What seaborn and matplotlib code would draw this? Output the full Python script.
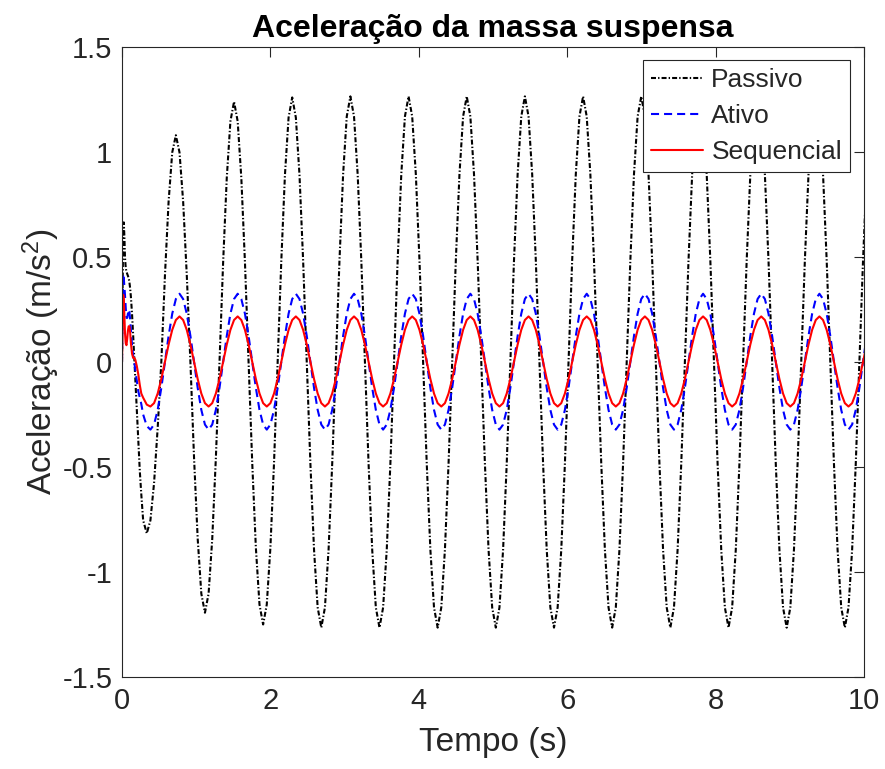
import matplotlib
matplotlib.use("Agg")
import matplotlib.pyplot as plt
import pandas as pd
import seaborn as sns

# ---------------- data ----------------
tempo = [
    0.000, 0.008, 0.016, 0.024, 0.032, 0.040, 0.050, 0.060, 0.070, 0.080, 0.090,
    0.100, 0.110, 0.120, 0.135, 0.150, 0.165, 0.180, 0.200, 0.220, 0.240, 0.260,
    0.285, 0.334, 0.383, 0.432, 0.481, 0.530, 0.579, 0.628, 0.677, 0.726, 0.775, 0.824, 0.873, 0.922, 0.971, 1.020,
    1.069, 1.118, 1.167, 1.216, 1.265, 1.314, 1.363, 1.412, 1.461, 1.510, 1.559, 1.608, 1.657, 1.706, 1.755, 1.804,
    1.853, 1.902, 1.951, 2.000, 2.049, 2.098, 2.147, 2.196, 2.245, 2.294, 2.343, 2.392, 2.441, 2.490, 2.539, 2.588,
    2.637, 2.686, 2.735, 2.784, 2.833, 2.882, 2.931, 2.980, 3.029, 3.078, 3.127, 3.176, 3.225, 3.274, 3.323, 3.372,
    3.421, 3.470, 3.519, 3.568, 3.617, 3.666, 3.715, 3.764, 3.813, 3.862, 3.911, 3.960, 4.009, 4.058, 4.107, 4.156,
    4.205, 4.254, 4.303, 4.352, 4.401, 4.450, 4.499, 4.548, 4.597, 4.646, 4.695, 4.744, 4.793, 4.842, 4.891, 4.940,
    4.989, 5.038, 5.087, 5.136, 5.185, 5.234, 5.283, 5.332, 5.381, 5.430, 5.479, 5.528, 5.577, 5.626, 5.675, 5.724,
    5.773, 5.822, 5.871, 5.920, 5.969, 6.018, 6.067, 6.116, 6.165, 6.214, 6.263, 6.312, 6.361, 6.410, 6.459, 6.508,
    6.557, 6.606, 6.655, 6.704, 6.753, 6.802, 6.851, 6.900, 6.949, 6.998, 7.047, 7.096, 7.145, 7.194, 7.243, 7.292,
    7.341, 7.390, 7.439, 7.488, 7.537, 7.586, 7.635, 7.684, 7.733, 7.782, 7.831, 7.880, 7.929, 7.978, 8.027, 8.076,
    8.125, 8.174, 8.223, 8.272, 8.321, 8.370, 8.419, 8.468, 8.517, 8.566, 8.615, 8.664, 8.713, 8.762, 8.811, 8.860,
    8.909, 8.958, 9.007, 9.056, 9.105, 9.154, 9.203, 9.252, 9.301, 9.350, 9.399, 9.448, 9.497, 9.546, 9.595, 9.644,
    9.693, 9.742, 9.791, 9.840, 9.889, 9.938, 9.987, 10.036,
]

passivo = [
    0.00, 0.35, 0.60, 0.665, 0.60, 0.50, 0.45, 0.43, 0.42, 0.41, 0.40,
    0.38, 0.35, 0.31, 0.23, 0.13, 0.02, -0.08, -0.24, -0.39, -0.52, -0.63,
    -0.754, -0.816, -0.754, -0.577, -0.313, 0.000, 0.414, 0.764, 0.998, 1.080, 0.998, 0.764, 0.414, 0.000, -0.457, -0.841,
    -1.103, -1.194, -1.103, -0.844, -0.457, 0.000, 0.475, 0.877, 1.146, 1.240, 1.146, 0.877, 0.475, 0.000, -0.479, -0.884,
    -1.155, -1.250, -1.155, -0.884, -0.479, 0.000, 0.483, 0.891, 1.164, 1.260, 1.164, 0.891, 0.483, 0.000, -0.484, -0.894,
    -1.169, -1.265, -1.169, -0.894, -0.484, 0.000, 0.484, 0.894, 1.169, 1.265, 1.169, 0.894, 0.484, 0.000, -0.484, -0.894,
    -1.169, -1.265, -1.169, -0.894, -0.484, 0.000, 0.484, 0.894, 1.169, 1.265, 1.169, 0.894, 0.484, 0.000, -0.484, -0.894,
    -1.169, -1.265, -1.169, -0.894, -0.484, 0.000, 0.484, 0.894, 1.169, 1.265, 1.169, 0.894, 0.484, 0.000, -0.484, -0.894,
    -1.169, -1.265, -1.169, -0.894, -0.484, 0.000, 0.484, 0.894, 1.169, 1.265, 1.169, 0.894, 0.484, 0.000, -0.484, -0.894,
    -1.169, -1.265, -1.169, -0.894, -0.484, 0.000, 0.484, 0.894, 1.169, 1.265, 1.169, 0.894, 0.484, 0.000, -0.484, -0.894,
    -1.169, -1.265, -1.169, -0.894, -0.484, 0.000, 0.484, 0.894, 1.169, 1.265, 1.169, 0.894, 0.484, 0.000, -0.484, -0.894,
    -1.169, -1.265, -1.169, -0.894, -0.484, 0.000, 0.484, 0.894, 1.169, 1.265, 1.169, 0.894, 0.484, 0.000, -0.484, -0.894,
    -1.169, -1.265, -1.169, -0.894, -0.484, 0.000, 0.484, 0.894, 1.169, 1.265, 1.169, 0.894, 0.484, 0.000, -0.484, -0.894,
    -1.169, -1.265, -1.169, -0.894, -0.484, 0.000, 0.484, 0.894, 1.169, 1.265, 1.169, 0.894, 0.484, 0.000, -0.484, -0.894,
    -1.169, -1.265, -1.169, -0.894, -0.484, 0.000, 0.484, 0.894,
]

ativo = [
    0.00, 0.25, 0.42, 0.40, 0.36, 0.32, 0.26, 0.21, 0.21, 0.23, 0.25,
    0.24, 0.20, 0.15, 0.08, 0.03, 0.00, -0.04, -0.09, -0.14, -0.17, -0.20,
    -0.250, -0.305, -0.322, -0.298, -0.228, -0.123, 0.000, 0.124, 0.230, 0.300, 0.325, 0.300, 0.230, 0.124, 0.000, -0.123,
    -0.228, -0.298, -0.322, -0.298, -0.228, -0.123, 0.000, 0.124, 0.230, 0.300, 0.325, 0.300, 0.230, 0.124, 0.000, -0.123,
    -0.228, -0.298, -0.322, -0.298, -0.228, -0.123, 0.000, 0.124, 0.230, 0.300, 0.325, 0.300, 0.230, 0.124, 0.000, -0.123,
    -0.228, -0.298, -0.322, -0.298, -0.228, -0.123, 0.000, 0.124, 0.230, 0.300, 0.325, 0.300, 0.230, 0.124, 0.000, -0.123,
    -0.228, -0.298, -0.322, -0.298, -0.228, -0.123, 0.000, 0.124, 0.230, 0.300, 0.325, 0.300, 0.230, 0.124, 0.000, -0.123,
    -0.228, -0.298, -0.322, -0.298, -0.228, -0.123, 0.000, 0.124, 0.230, 0.300, 0.325, 0.300, 0.230, 0.124, 0.000, -0.123,
    -0.228, -0.298, -0.322, -0.298, -0.228, -0.123, 0.000, 0.124, 0.230, 0.300, 0.325, 0.300, 0.230, 0.124, 0.000, -0.123,
    -0.228, -0.298, -0.322, -0.298, -0.228, -0.123, 0.000, 0.124, 0.230, 0.300, 0.325, 0.300, 0.230, 0.124, 0.000, -0.123,
    -0.228, -0.298, -0.322, -0.298, -0.228, -0.123, 0.000, 0.124, 0.230, 0.300, 0.325, 0.300, 0.230, 0.124, 0.000, -0.123,
    -0.228, -0.298, -0.322, -0.298, -0.228, -0.123, 0.000, 0.124, 0.230, 0.300, 0.325, 0.300, 0.230, 0.124, 0.000, -0.123,
    -0.228, -0.298, -0.322, -0.298, -0.228, -0.123, 0.000, 0.124, 0.230, 0.300, 0.325, 0.300, 0.230, 0.124, 0.000, -0.123,
    -0.228, -0.298, -0.322, -0.298, -0.228, -0.123, 0.000, 0.124, 0.230, 0.300, 0.325, 0.300, 0.230, 0.124, 0.000, -0.123,
    -0.228, -0.298, -0.322, -0.298, -0.228, -0.123, 0.000, 0.124,
]

sequencial = [
    0.00, 0.20, 0.32, 0.30, 0.22, 0.14, 0.09, 0.08, 0.11, 0.15, 0.17,
    0.17, 0.14, 0.09, 0.04, 0.02, 0.02, 0.01, -0.02, -0.06, -0.11, -0.15,
    -0.170, -0.203, -0.212, -0.196, -0.150, -0.081, 0.000, 0.083, 0.153, 0.200, 0.217, 0.200, 0.153, 0.083, 0.000, -0.081,
    -0.150, -0.196, -0.212, -0.196, -0.150, -0.081, 0.000, 0.083, 0.153, 0.200, 0.217, 0.200, 0.153, 0.083, 0.000, -0.081,
    -0.150, -0.196, -0.212, -0.196, -0.150, -0.081, 0.000, 0.083, 0.153, 0.200, 0.217, 0.200, 0.153, 0.083, 0.000, -0.081,
    -0.150, -0.196, -0.212, -0.196, -0.150, -0.081, 0.000, 0.083, 0.153, 0.200, 0.217, 0.200, 0.153, 0.083, 0.000, -0.081,
    -0.150, -0.196, -0.212, -0.196, -0.150, -0.081, 0.000, 0.083, 0.153, 0.200, 0.217, 0.200, 0.153, 0.083, 0.000, -0.081,
    -0.150, -0.196, -0.212, -0.196, -0.150, -0.081, 0.000, 0.083, 0.153, 0.200, 0.217, 0.200, 0.153, 0.083, 0.000, -0.081,
    -0.150, -0.196, -0.212, -0.196, -0.150, -0.081, 0.000, 0.083, 0.153, 0.200, 0.217, 0.200, 0.153, 0.083, 0.000, -0.081,
    -0.150, -0.196, -0.212, -0.196, -0.150, -0.081, 0.000, 0.083, 0.153, 0.200, 0.217, 0.200, 0.153, 0.083, 0.000, -0.081,
    -0.150, -0.196, -0.212, -0.196, -0.150, -0.081, 0.000, 0.083, 0.153, 0.200, 0.217, 0.200, 0.153, 0.083, 0.000, -0.081,
    -0.150, -0.196, -0.212, -0.196, -0.150, -0.081, 0.000, 0.083, 0.153, 0.200, 0.217, 0.200, 0.153, 0.083, 0.000, -0.081,
    -0.150, -0.196, -0.212, -0.196, -0.150, -0.081, 0.000, 0.083, 0.153, 0.200, 0.217, 0.200, 0.153, 0.083, 0.000, -0.081,
    -0.150, -0.196, -0.212, -0.196, -0.150, -0.081, 0.000, 0.083, 0.153, 0.200, 0.217, 0.200, 0.153, 0.083, 0.000, -0.081,
    -0.150, -0.196, -0.212, -0.196, -0.150, -0.081, 0.000, 0.083,
]

nomes = ["Passivo", "Ativo", "Sequencial"]
titulo = "Aceleração da massa suspensa"
rotulo_x = "Tempo (s)"
rotulo_y = "Aceleração (m/s$^{2}$)"
x_ticks = [0, 2, 4, 6, 8, 10]
y_ticks = [-1.5, -1, -0.5, 0, 0.5, 1, 1.5]
y_tick_labels = ["-1.5", "-1", "-0.5", "0", "0.5", "1", "1.5"]

# ---------------- style ----------------
sns.set_style("white")
plt.rcParams["font.family"] = ["Liberation Sans", "DejaVu Sans"]
plt.rcParams["axes.unicode_minus"] = False
plt.rcParams["mathtext.fontset"] = "custom"
plt.rcParams["mathtext.rm"] = "Liberation Sans"
plt.rcParams["mathtext.default"] = "regular"
plt.rcParams["lines.scale_dashes"] = False

W, H = 885, 769
fig = plt.figure(figsize=(W / 100, H / 100), dpi=100)
ax = fig.add_axes([122 / W, 1 - 677 / H, 742 / W, 630 / H])

df = pd.DataFrame({"Tempo": tempo, nomes[0]: passivo, nomes[1]: ativo, nomes[2]: sequencial})

estilos = {
    "Passivo": dict(color="black", linestyle=(0, (3.6, 1.5, 1.0, 1.5)), linewidth=1.5),
    "Ativo": dict(color="#0000ff", linestyle=(0, (5.8, 3.6)), linewidth=1.5),
    "Sequencial": dict(color="#ff0000", linestyle="-", linewidth=1.5),
}
for nome in nomes:
    sns.lineplot(data=df, x="Tempo", y=nome, ax=ax, label=nome,
                 estimator=None, sort=False, **estilos[nome])

ax.set_xlim(0, 10)
ax.set_ylim(-1.5, 1.5)
ax.set_xticks(x_ticks)
ax.set_xticklabels([str(v) for v in x_ticks])
ax.set_yticks(y_ticks)
ax.set_yticklabels(y_tick_labels)

axis_color = "#262626"
ax.tick_params(axis="both", direction="in", length=7, width=0.8,
               top=True, right=True, labelsize=21, colors=axis_color, pad=7)
for s in ax.spines.values():
    s.set_visible(True)
    s.set_color(axis_color)
    s.set_linewidth(0.8)

ax.set_xlabel(rotulo_x, fontsize=24, color=axis_color, labelpad=9)
ax.set_ylabel(rotulo_y, fontsize=24, color=axis_color, labelpad=0)
ax.set_title(titulo, fontsize=23, fontweight="bold", color="black", pad=7)

leg = ax.legend(loc="upper right", bbox_to_anchor=(0.981, 0.979), borderaxespad=0,
                fontsize=19, frameon=True, fancybox=False, framealpha=1,
                edgecolor=axis_color, handlelength=2.0, handletextpad=0.3,
                labelspacing=0.45, borderpad=0.3)
leg.get_frame().set_linewidth(0.8)

fig.savefig("out.png", dpi=100)
